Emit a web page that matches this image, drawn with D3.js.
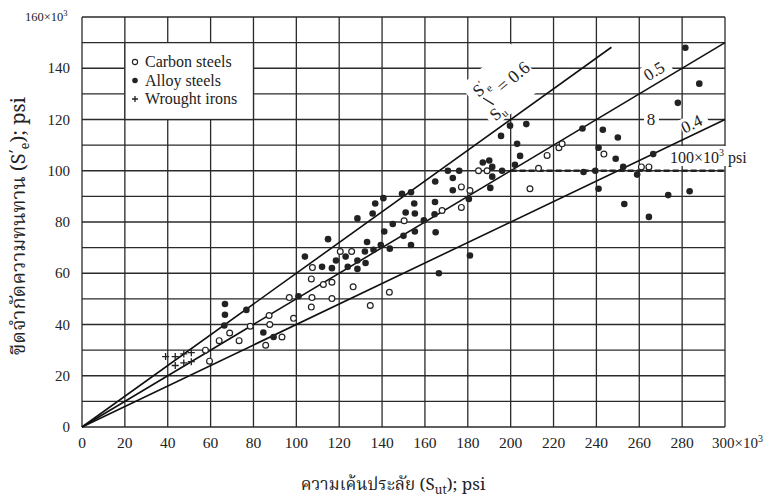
<!DOCTYPE html>
<html>
<head>
<meta charset="utf-8">
<script src="https://cdn.jsdelivr.net/npm/d3@7"></script>
<style>
  body { margin: 0; background: #fff; }
  svg { display: block; }
  text { font-family: "Liberation Serif", "DejaVu Serif", serif; fill: #222; }
  .thai { font-family: "Noto Serif Thai", "Noto Sans Thai", "Loma", "Garuda", "Liberation Serif", serif; }
</style>
</head>
<body>
<svg id="chart" width="776" height="500"></svg>
<script>
// ค่าข้อมูลที่อ่านจากภาพ (หน่วย ×10^3 psi): [Sut, S'e]
const carbonSteels = [
  [57.6, 30], [59.5, 25.7], [64, 33.7], [68.9, 36.7], [73.3, 33.7], [78.5, 39.3], [85.7, 31.9],
  [87.3, 43.5], [87.6, 40], [93.3, 35.1], [96.7, 50.5], [98.7, 42.4], [107, 46.8], [107.3, 50.5],
  [107, 57.8], [107.5, 62.2], [112.6, 55.6], [116.6, 56.5], [116.6, 50.1], [120.5, 68.5],
  [125.8, 68.5], [126.5, 54.7], [134.5, 47.4], [143.4, 52.6], [150.3, 80.5], [168, 84.5],
  [177, 85.7], [177, 93.7], [181, 92.3], [185, 100], [189, 100], [209, 93], [213, 101],
  [217, 106], [222.5, 109], [224, 110.5], [243.5, 106.5], [261, 101.5], [264.5, 101.5]
];
const alloySteels = [
  [66.4, 39.6], [66.7, 43.8], [66.7, 48], [76.7, 45.7], [84.6, 36.9], [89.4, 35.1], [101, 51],
  [104, 66.5], [112, 62.5], [116.6, 62], [114.8, 73.3], [118.5, 65], [123, 66.5], [124, 62.5],
  [128.5, 65], [128.5, 61.7], [132, 68.5], [132.3, 64], [133, 72.2], [136, 69.2], [139.4, 71],
  [143.6, 69.6], [141, 76.3], [145, 79.2], [150, 74.6], [153.5, 71], [155.3, 76.3], [128.5, 81.4],
  [135.6, 83.3], [136.8, 87.2], [140.6, 89.3], [149.3, 91], [153.5, 91.6], [155, 87.2], [151, 83.7],
  [155.3, 83.3], [159.5, 80.7], [165, 76], [164.5, 83], [164.7, 87.8], [164.8, 95.8], [166.5, 60],
  [181, 66.9], [170.7, 100], [173, 97.2], [176, 100], [173, 92.4], [180.5, 89], [187, 103.2],
  [190, 104], [191.4, 101.5], [191.4, 97.7], [190.5, 93.3], [196, 100], [195.5, 113.6],
  [199.7, 117.6], [207.3, 118.2], [203, 110.5], [204.4, 105.8], [202, 102.3], [233.5, 116.5],
  [243, 116], [250, 113], [241, 109], [249, 104.7], [252.5, 101.5], [239.5, 100], [234, 99.5],
  [259, 98.5], [266.5, 106.5], [241, 93], [253, 87], [264.5, 82], [273.5, 90.5], [283.5, 92],
  [278, 126.5], [288, 134], [281.5, 148]
];
const wroughtIrons = [
  [39, 27.5], [43.5, 27.5], [43.5, 24], [47.5, 28.5], [47.5, 25], [51, 29], [51, 25.5]
];

// เส้นอัตราส่วน S'e/Sut และเส้นขีดจำกัด 100×10^3 psi
const ratioLines = [
  { ratio: 0.6, xEnd: 247 },
  { ratio: 0.5, xEnd: 300 },
  { ratio: 0.4, xEnd: 300 }
];
const enduranceLimit = 100;
const limitStart = 200;

const xTicks = [0, 20, 40, 60, 80, 100, 120, 140, 160, 180, 200, 220, 240, 260, 280];
const yTicks = [0, 20, 40, 60, 80, 100, 120, 140];
const legendItems = ["Carbon steels", "Alloy steels", "Wrought irons"];

const svg = d3.select("#chart");
const x = d3.scaleLinear().domain([0, 300]).range([82, 725]);
const y = d3.scaleLinear().domain([0, 160]).range([427, 17]);

// --- เส้นกริด ---
const grid = svg.append("g").attr("stroke", "#2a2a2a").attr("stroke-width", 1.3);
grid.selectAll(".vg").data(d3.range(0, 301, 20)).enter().append("line")
  .attr("x1", d => x(d)).attr("x2", d => x(d))
  .attr("y1", y(0)).attr("y2", y(160));
grid.selectAll(".hg").data(d3.range(0, 161, 10)).enter().append("line")
  .attr("x1", x(0)).attr("x2", x(300))
  .attr("y1", d => y(d)).attr("y2", d => y(d));

// --- กล่องคำอธิบาย (ทับช่องกริด 20-80, 120-150) ---
svg.append("rect")
  .attr("x", x(20)).attr("y", y(150))
  .attr("width", x(80) - x(20)).attr("height", y(120) - y(150))
  .attr("fill", "#fff").attr("stroke", "#2a2a2a").attr("stroke-width", 1.3);

const legend = svg.append("g");
legendItems.forEach((name, i) => {
  const ly = 62 + i * 18.5;
  const mx = 135;
  if (i === 0) legend.append("circle").attr("cx", mx).attr("cy", ly).attr("r", 2.6)
    .attr("fill", "#fff").attr("stroke", "#222").attr("stroke-width", 1.1);
  if (i === 1) legend.append("circle").attr("cx", mx).attr("cy", ly).attr("r", 2.8).attr("fill", "#222");
  if (i === 2) legend.append("path").attr("d", `M${mx - 3},${ly}h6M${mx},${ly - 3}v6`)
    .attr("stroke", "#222").attr("stroke-width", 1.3);
  legend.append("text").attr("x", 145).attr("y", ly + 5).attr("font-size", 16).text(name);
});

// --- พื้นหลังขาวของป้ายบนกราฟ ---
const labelBg = svg.append("g").attr("fill", "#fff");
labelBg.append("rect").attr("x", 643).attr("y", 60).attr("width", 28).attr("height", 20)
  .attr("transform", "rotate(-31 657 70)");
labelBg.append("rect").attr("x", 644).attr("y", 108).attr("width", 15).attr("height", 20);
labelBg.append("rect").attr("x", 680).attr("y", 114).attr("width", 28).attr("height", 18)
  .attr("transform", "rotate(-26 694 123)");
labelBg.append("rect").attr("x", 668).attr("y", 146).attr("width", 86).attr("height", 20);
labelBg.append("rect").attr("x", -14).attr("y", -30).attr("width", 66).attr("height", 54)
  .attr("transform", "translate(490,100) rotate(-40)");

// --- เส้นอัตราส่วน ---
svg.append("g").selectAll("line").data(ratioLines).enter().append("line")
  .attr("x1", x(0)).attr("y1", y(0))
  .attr("x2", d => x(d.xEnd)).attr("y2", d => y(d.xEnd * d.ratio))
  .attr("stroke", "#111").attr("stroke-width", 1.6);

// เส้นประ 100×10^3 psi
svg.append("line")
  .attr("x1", x(limitStart)).attr("x2", x(300))
  .attr("y1", y(enduranceLimit)).attr("y2", y(enduranceLimit))
  .attr("stroke", "#222").attr("stroke-width", 2.6).attr("stroke-dasharray", "6,3");

// --- จุดข้อมูล ---
svg.append("g").selectAll("circle").data(carbonSteels).enter().append("circle")
  .attr("cx", d => x(d[0])).attr("cy", d => y(d[1])).attr("r", 2.9)
  .attr("fill", "#fff").attr("stroke", "#222").attr("stroke-width", 1.2);
svg.append("g").selectAll("circle").data(alloySteels).enter().append("circle")
  .attr("cx", d => x(d[0])).attr("cy", d => y(d[1])).attr("r", 3.3)
  .attr("fill", "#222");
svg.append("g").selectAll("path").data(wroughtIrons).enter().append("path")
  .attr("d", d => `M${x(d[0]) - 3.5},${y(d[1])}h7M${x(d[0])},${y(d[1]) - 3.5}v7`)
  .attr("stroke", "#222").attr("stroke-width", 1.3);

// --- ป้ายข้อความบนเส้น ---
const lab06 = svg.append("g").attr("transform", "translate(490,100) rotate(-40)");
lab06.append("text").attr("x", 1).attr("y", -9).attr("font-size", 17).attr("text-anchor", "middle")
  .html('S<tspan dy="-6" font-size="11">′</tspan><tspan dy="9" font-size="11">e</tspan>');
lab06.append("line").attr("x1", -4).attr("x2", 0).attr("y1", -6).attr("y2", 6)
  .attr("stroke", "#222").attr("stroke-width", 1.3);
lab06.append("text").attr("x", -2).attr("y", 20).attr("font-size", 17).attr("text-anchor", "middle")
  .html('S<tspan dy="3" font-size="11">u</tspan>');
lab06.append("text").attr("x", 14).attr("y", 3).attr("font-size", 18).text("= 0.6");

svg.append("text").attr("transform", "translate(657,76) rotate(-31)")
  .attr("font-size", 17).attr("text-anchor", "middle").text("0.5");
svg.append("text").attr("x", 651).attr("y", 125).attr("font-size", 17)
  .attr("text-anchor", "middle").text("8");
svg.append("text").attr("transform", "translate(694,129) rotate(-26)")
  .attr("font-size", 17).attr("text-anchor", "middle").text("0.4");
svg.append("text").attr("x", 670).attr("y", 163).attr("font-size", 16)
  .html('100×10<tspan dy="-7" font-size="10">3</tspan><tspan dy="7"> psi</tspan>');

// --- ป้ายแกน ---
svg.append("g").selectAll("text").data(xTicks).enter().append("text")
  .attr("x", d => x(d)).attr("y", 448).attr("font-size", 15.5).attr("text-anchor", "middle")
  .text(d => d);
svg.append("text").attr("x", 712).attr("y", 448).attr("font-size", 15)
  .html('300×10<tspan dy="-6" font-size="10">3</tspan>');

svg.append("g").selectAll("text").data(yTicks).enter().append("text")
  .attr("x", 70).attr("y", d => y(d) + 5).attr("font-size", 15).attr("text-anchor", "end")
  .text(d => d);
svg.append("text").attr("x", 25).attr("y", 21).attr("font-size", 12.5)
  .html('160×10<tspan dy="-5" font-size="8.5">3</tspan>');

// ชื่อแกน
svg.append("text").attr("class", "thai").attr("x", 393).attr("y", 490)
  .attr("font-size", 17).attr("text-anchor", "middle")
  .html('ความเค้นประลัย (S<tspan dy="4" font-size="12">ut</tspan><tspan dy="-4">); psi</tspan>');
svg.append("text").attr("class", "thai").attr("transform", "translate(25,226) rotate(-90)")
  .attr("font-size", 20).attr("text-anchor", "middle")
  .html('ขีดจำกัดความทนทาน (S<tspan dy="-7" font-size="13">′</tspan><tspan dy="11" font-size="13">e</tspan><tspan dy="-4">); psi</tspan>');
</script>
</body>
</html>
